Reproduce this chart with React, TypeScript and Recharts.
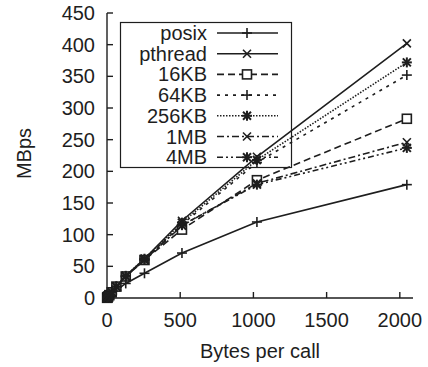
import React from 'react';
import { LineChart, Line, XAxis, YAxis, Legend } from 'recharts';

// message sizes (bytes per call)
const sizes = [1, 2, 4, 8, 16, 32, 64, 128, 256, 512, 1024, 2048];

// throughput in MBps
const posix = [0.2, 0.4, 0.8, 1.5, 3, 6, 12, 23, 39, 71, 120, 179];
const pthread = [0.3, 0.6, 1.2, 2.4, 4.6, 9, 18, 35, 62, 122, 223, 402];
const kb16 = [0.3, 0.6, 1.2, 2.4, 4.5, 9, 18, 34, 60, 108, 186, 283];
const kb64 = [0.3, 0.6, 1.2, 2.4, 4.5, 9, 18, 34, 61, 116, 214, 352];
const kb256 = [0.3, 0.6, 1.2, 2.4, 4.6, 9, 18, 35, 62, 119, 218, 372];
const mb1 = [0.3, 0.6, 1.2, 2.4, 4.5, 9, 18, 34, 60, 114, 181, 246];
const mb4 = [0.3, 0.6, 1.2, 2.4, 4.5, 9, 18, 34, 60, 115, 179, 237];

const xTicks = [0, 500, 1000, 1500, 2000];
const yTicks = [0, 50, 100, 150, 200, 250, 300, 350, 400, 450];

const INK = '#1e1e1e';
const FONT = '"Liberation Sans", Arial, Helvetica, sans-serif';

type MarkerKind = 'plus' | 'cross' | 'square' | 'star';

const seriesDefs: { key: string; name: string; dash?: string; marker: MarkerKind }[] = [
  { key: 'posix', name: 'posix', marker: 'plus' },
  { key: 'pthread', name: 'pthread', marker: 'cross' },
  { key: 'kb16', name: '16KB', dash: '7 4', marker: 'square' },
  { key: 'kb64', name: '64KB', dash: '3 5', marker: 'plus' },
  { key: 'kb256', name: '256KB', dash: '1.5 1.5', marker: 'star' },
  { key: 'mb1', name: '1MB', dash: '7 3 2 3', marker: 'cross' },
  { key: 'mb4', name: '4MB', dash: '6 3 2 3 2 3', marker: 'star' },
];

const data = sizes.map((s, i) => ({
  size: s,
  posix: posix[i],
  pthread: pthread[i],
  kb16: kb16[i],
  kb64: kb64[i],
  kb256: kb256[i],
  mb1: mb1[i],
  mb4: mb4[i],
}));

const Marker = ({ kind, cx, cy }: { kind: MarkerKind; cx: number; cy: number }) => {
  const h = 5;
  const d = 4;
  const common = { stroke: INK, strokeWidth: 1.6 };
  if (kind === 'plus') {
    return (
      <g>
        <line x1={cx - h} y1={cy} x2={cx + h} y2={cy} {...common} />
        <line x1={cx} y1={cy - h} x2={cx} y2={cy + h} {...common} />
      </g>
    );
  }
  if (kind === 'cross') {
    return (
      <g>
        <line x1={cx - d} y1={cy - d} x2={cx + d} y2={cy + d} {...common} />
        <line x1={cx - d} y1={cy + d} x2={cx + d} y2={cy - d} {...common} />
      </g>
    );
  }
  if (kind === 'square') {
    return <rect x={cx - 4.5} y={cy - 4.5} width={9} height={9} fill="#fff" {...common} />;
  }
  return (
    <g>
      <line x1={cx - h} y1={cy} x2={cx + h} y2={cy} {...common} strokeWidth={2} />
      <line x1={cx} y1={cy - h} x2={cx} y2={cy + h} {...common} strokeWidth={2} />
      <line x1={cx - d} y1={cy - d} x2={cx + d} y2={cy + d} {...common} strokeWidth={2} />
      <line x1={cx - d} y1={cy + d} x2={cx + d} y2={cy - d} {...common} strokeWidth={2} />
    </g>
  );
};

const renderLegend = () => (
  <svg width={172} height={146} style={{ display: 'block', overflow: 'visible' }}>
    <rect x={0.5} y={0.5} width={171} height={145} fill="none" stroke={INK} strokeWidth={1.2} />
    {seriesDefs.map((s, i) => {
      const y = 11 + i * 20.7;
      return (
        <g key={s.key}>
          <text
            x={87}
            y={y}
            textAnchor="end"
            dominantBaseline="central"
            fontFamily={FONT}
            fontSize={20}
            fill={INK}
          >
            {s.name}
          </text>
          <line x1={97} y1={y} x2={158} y2={y} stroke={INK} strokeWidth={1.6} strokeDasharray={s.dash} />
          <Marker kind={s.marker} cx={127} cy={y} />
        </g>
      );
    })}
  </svg>
);

const tickStyle = { fill: INK, fontSize: 20, fontFamily: FONT };

export default function App() {
  return (
    <div style={{ position: 'absolute', left: 0, top: 0, width: 428, height: 367, background: '#fff' }}>
      <LineChart width={428} height={367} data={data} margin={{ top: 13, right: 15, left: 0, bottom: 0 }}>
        <XAxis
          dataKey="size"
          type="number"
          domain={[0, 2090]}
          ticks={xTicks}
          height={69}
          tickSize={-6}
          tickMargin={21}
          tick={tickStyle}
          stroke={INK}
          strokeWidth={1.4}
          label={{
            content: ({ viewBox }: any) => (
              <text
                x={viewBox.x + viewBox.width / 2}
                y={viewBox.y + 60}
                textAnchor="middle"
                fontFamily={FONT}
                fontSize={20}
                fill={INK}
              >
                Bytes per call
              </text>
            ),
          }}
        />
        <XAxis
          xAxisId="top"
          orientation="top"
          dataKey="size"
          type="number"
          domain={[0, 2090]}
          ticks={xTicks}
          height={0}
          tickSize={-6}
          tick={false}
          stroke={INK}
          strokeWidth={1.4}
        />
        <YAxis
          type="number"
          domain={[0, 450]}
          ticks={yTicks}
          width={107}
          tickSize={-6}
          tickMargin={18}
          tick={tickStyle}
          stroke={INK}
          strokeWidth={1.4}
          label={{
            content: ({ viewBox }: any) => {
              const cx = 24;
              const cy = viewBox.y + viewBox.height / 2 - 2;
              return (
                <text
                  x={cx}
                  y={cy}
                  transform={`rotate(-90 ${cx} ${cy})`}
                  textAnchor="middle"
                  dominantBaseline="central"
                  fontFamily={FONT}
                  fontSize={20}
                  fill={INK}
                >
                  MBps
                </text>
              );
            },
          }}
        />
        <YAxis
          yAxisId="right"
          orientation="right"
          type="number"
          domain={[0, 450]}
          ticks={yTicks}
          width={0}
          tickSize={-6}
          tick={false}
          stroke={INK}
          strokeWidth={1.4}
        />
        <Legend
          verticalAlign="middle"
          align="center"
          content={renderLegend}
          wrapperStyle={{ left: 120, top: 22, width: 172, height: 146 }}
        />
        {seriesDefs.map((s) => (
          <Line
            key={s.key}
            dataKey={s.key}
            name={s.name}
            type="linear"
            stroke={INK}
            strokeWidth={1.6}
            strokeDasharray={s.dash}
            isAnimationActive={false}
            dot={(p: any) => <Marker key={`${s.key}-${p.index}`} kind={s.marker} cx={p.cx} cy={p.cy} />}
            activeDot={false}
          />
        ))}
      </LineChart>
    </div>
  );
}
